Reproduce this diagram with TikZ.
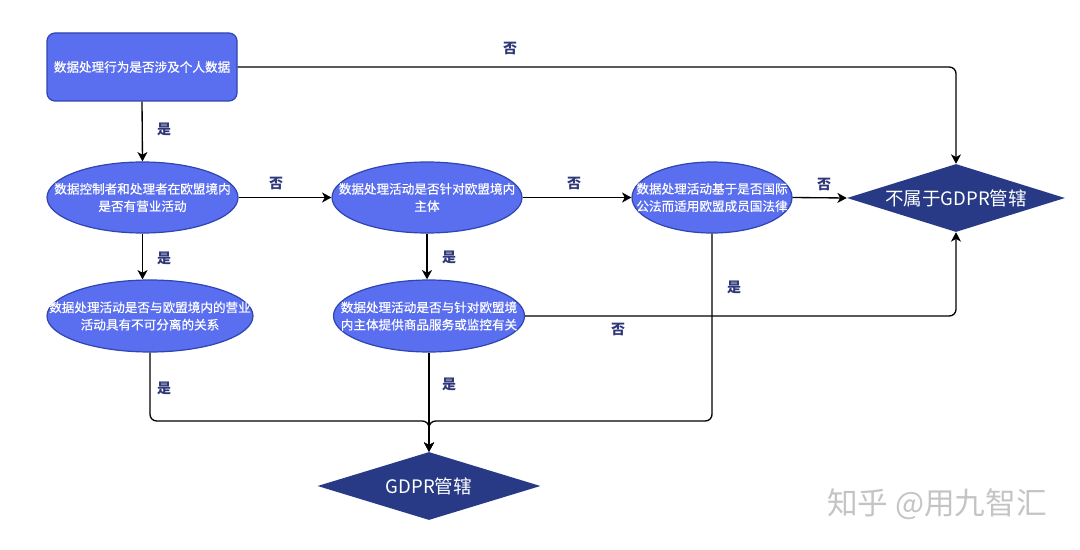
\documentclass[tikz,border=0pt]{standalone}
\usepackage{fontspec}
\setmainfont{Noto Sans CJK SC}
\newfontfamily\heavycjk[FakeBold=0.5]{Noto Sans CJK SC}
\usetikzlibrary{arrows.meta,shapes.geometric}
\definecolor{boxblue}{HTML}{5A6EF0}
\definecolor{boxedge}{HTML}{2F45B0}
\definecolor{navy}{HTML}{283A86}
\definecolor{tagink}{HTML}{2E3878}
\definecolor{wmgray}{HTML}{C4C4C4}

\begin{document}
\begin{tikzpicture}[x=0.75pt,y=-0.75pt,
  qbox/.style={rectangle,rounded corners=6pt,draw=boxedge,fill=boxblue,line width=0.9pt,
    minimum width=142.5pt,minimum height=51pt,inner sep=0pt,text=white,font=\heavycjk\fontsize{9.45}{13}\selectfont},
  oval/.style={ellipse,draw=boxedge,fill=boxblue,line width=0.9pt,inner sep=0pt},
  otext/.style={align=center,text=white,font=\heavycjk\fontsize{9.45}{13}\selectfont},
  verdict/.style={diamond,fill=navy,inner sep=0pt,minimum width=#1,minimum height=51pt},
  vtext/.style={text=white,font=\fontsize{13.9}{16}\selectfont},
  tag/.style={text=tagink,font=\fontsize{10.5}{12}\bfseries},
  link/.style={line width=1pt,rounded corners=5pt,-{Stealth[length=7pt,width=7.5pt,inset=2pt]}}]
\useasboundingbox (0,0) rectangle (1080,549);
% questions
\node[qbox] (q0) at (142,67) {数据处理行为是否涉及个人数据};
\node[oval,minimum width=143.25pt,minimum height=53.25pt,
  label={[otext]center:数据控制者和处理者在欧盟境内\\是否有营业活动}] (q1) at (142.5,197.5) {};
\node[oval,minimum width=142.5pt,minimum height=53.25pt,
  label={[otext]center:数据处理活动是否针对欧盟境内\\主体}] (q2) at (427,197.5) {};
\node[oval,minimum width=120pt,minimum height=53.25pt,
  label={[otext]center:数据处理活动基于是否国际\\公法而适用欧盟成员国法律}] (q3) at (712,197.5) {};
\node[oval,minimum width=154.5pt,minimum height=54pt,
  label={[otext]center:数据处理活动是否与欧盟境内的营业\\活动具有不可分离的关系}] (q4) at (150,316) {};
\node[oval,minimum width=143.25pt,minimum height=54pt,
  label={[otext]center:数据处理活动是否与针对欧盟境\\内主体提供商品服务或监控有关}] (q5) at (429,316) {};
% outcomes
\node[verdict=163.5pt,label={[vtext]center:不属于GDPR管辖}] (out) at (956,198) {};
\node[verdict=167.25pt,label={[vtext]center:GDPR管辖}] (gdpr) at (429,486) {};
\coordinate (join) at (429,421);
% connectors
\draw[link] (q0.east) -- (q0.east -| out.north) -- (out.north);
\draw[link] (q0.south) -- (q1.north);
\draw[link] (q1.east) -- (q2.west);
\draw[link] (q2.east) -- (q3.west);
\draw[link] (q3.east) -- (out.west);
\draw[link] (q1.south) -- (q1.south |- q4.north);
\draw[link] (q2.south) -- (q2.south |- q5.north);
\draw[link] (q5.east) -- (q5.east -| out.south) -- (out.south);
\draw[link] (q3.south) -- (q3.south |- join) -- (join) -- (gdpr.north);
\draw[link] (q4.south) -- (q4.south |- join) -- (join) -- (gdpr.north);
\draw[link] (q5.south) -- (gdpr.north);
% yes / no
\node[tag] (n0) at (510,48) {否};
\node[tag] (y1) at (164,129) {是};
\node[tag] (n1) at (276,183) {否};
\node[tag] (n2) at (574,183) {否};
\node[tag] (n3) at (824,184) {否};
\node[tag] (y2) at (164,258) {是};
\node[tag] (y3) at (449,257) {是};
\node[tag] (y4) at (734,287) {是};
\node[tag] (n4) at (618,329) {否};
\node[tag] (y5) at (164,388) {是};
\node[tag] (y6) at (449,384) {是};
\node[text=wmgray,font=\fontsize{23}{26}\selectfont] (wm) at (937,504) {知乎 @用九智汇};
\end{tikzpicture}
\end{document}
